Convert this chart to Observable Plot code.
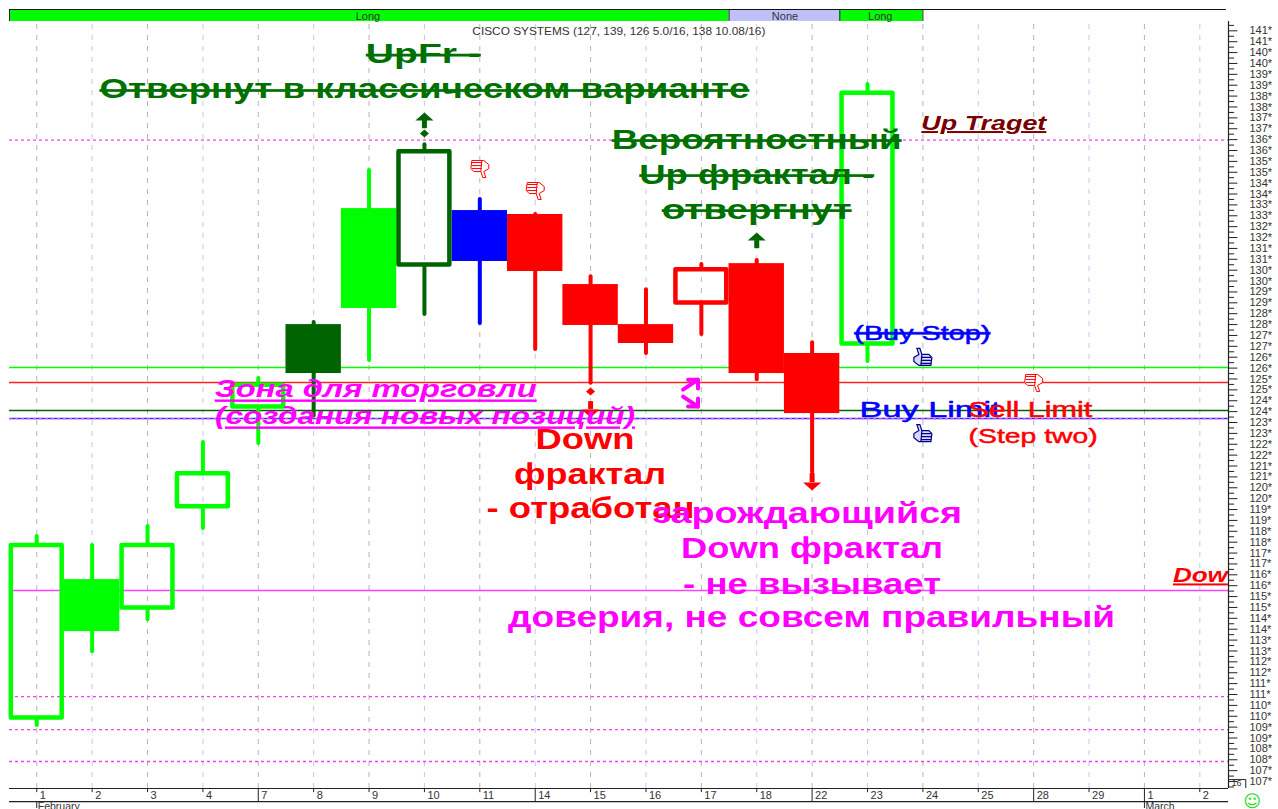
<!DOCTYPE html>
<html><head><meta charset="utf-8">
<style>html,body{margin:0;padding:0;background:#fff;overflow:hidden}svg{display:block}</style>
<script src="https://cdn.jsdelivr.net/npm/d3@7"></script>
<script src="https://cdn.jsdelivr.net/npm/@observablehq/plot@0.6"></script>
</head><body><div id="chart"></div>
<script>
// ---- data -----
const dayLabels = ["1","2","3","4","7","8","9","10","11","14","15","16","17","18","22","23","24","25","28","29","1","2"];
const weekStart = ["1","7","14","22","28"];
const bodyTop    = [117.95,116.28,117.95,121.25,125.32,128.0,133.33,136.05,133.24,133.06,129.84,128.0,130.62,130.8,126.67,138.74];
const bodyBottom = [109.82,113.89,114.87,119.52,124.11,125.75,128.74,130.64,130.9,130.44,127.96,127.13,128.89,125.75,123.91,127.0];
const highs      = [118.26,117.85,118.72,122.58,125.52,128.09,135.08,136.27,133.75,133.06,130.2,129.6,130.76,130.94,127.17,139.03];
const lows       = [109.57,112.97,114.44,118.63,122.53,123.8,126.35,128.46,128.05,126.85,125.3,126.67,127.54,125.47,121.2,126.3];
const hollow     = [1,0,1,1,1,0,0,1,0,0,0,0,1,0,0,1];
const state      = ["long","long","long","long","long","dark","long","dark","flat","short","short","short","short","short","short","long"];
const stateColor = {long:"#00ff00",dark:"#006400",flat:"#0000ff",short:"#ff0000"};
const candles = bodyTop.map((t,i)=>({i,top:t,bottom:bodyBottom[i],high:highs[i],low:lows[i],hollow:!!hollow[i],color:stateColor[state[i]]}));

const solidLevels = [[126.03,"#00ff00"],[125.34,"#ff2020"],[124.05,"#006400"],[123.68,"#3030ff"],[115.78,"#ff40ff"]];
const dashedLevels = [136.48,123.68,110.9,109.39,107.92];
const signalStrip = [[-0.492,12.5,"#00ff00","Long",5.98],[12.5,14.5,"#c0c0f8","None",13.51],[14.5,16,"#00ff00","Long",15.23]];

const greenNotes = [["UpFr -",6.98,140.0,115,28],["Отвернут в классическом варианте",7,138.39,650,27],["Вероятностный",13,136.09,290,27],["Up фрактал -",13,134.48,235,27],["отвергнут",13,132.87,190,27]];
const redNotes = [["Down",9.9,122.3,99,30],["фрактал",9.99,120.69,152,30],["- отработан",10,119.09,208,30]];
const pinkNotes = [["зарождающийся",13.91,118.86,310,29],["Down фрактал",14,117.25,262,29],["- не вызывает",14,115.64,258,29],["доверия, не совсем правильный",13.99,114.08,607,29]];
const zoneNotes = [["Зона для торговли",6.12,124.65,322,24],["(создания новых позиций)",7.01,123.41,420,24]];
const thumbsDown = [[8,135.17],[9,134.16],[18,125.34]];
const thumbsUp = [[16,126.49],[16,122.99]];

// ---- scales -----
const xMin=-0.492, xMax=21.518, yMin=106.68, yMax=142.48;
const yBottomA=106.08, yBottomB=105.76;
const minorTicks = d3.range(106.75,141.76,0.25);
const labelTicks = d3.range(107,141.51,0.5);
const widths = new Map();
[...greenNotes,...redNotes,...pinkNotes,...zoneNotes].forEach(d=>widths.set(d[0],d[3]));
[["Up Traget",125],["(Buy Stop)",136],["Buy Limit",141],["Sell Limit",124],["(Step two)",129],["Dow",55],["CISCO SYSTEMS (127, 139, 126 5.0/16, 138 10.08/16)",293]].forEach(d=>widths.set(d[0],d[1]));
const strike = new Set(["UpFr -","Отвернут в классическом варианте","Вероятностный","Up фрактал -","отвергнут","(Buy Stop)"]);
const under = new Set(["Up Traget","Dow","Зона для торговли","(создания новых позиций)"]);
const sans = "Liberation Sans";

// custom symbols
const arrowHead = {draw(c){c.moveTo(0,-8);c.lineTo(9,0);c.lineTo(-9,0);c.closePath();}};
const flatDiamond = {draw(c){c.moveTo(0,-4);c.lineTo(4.5,0);c.lineTo(0,4);c.lineTo(-4.5,0);c.closePath();}};
const thumb = {draw(c){
  c.moveTo(-6,-9);c.lineTo(-3,-9);c.lineTo(-1,-3);c.lineTo(6,-3);c.lineTo(9,0);c.lineTo(8,8);c.lineTo(-4,8);c.lineTo(-9,4);c.lineTo(-9,0);c.lineTo(-4,-3);c.closePath();
  c.moveTo(-1,-3);c.lineTo(-2,8);
  c.moveTo(-2,0);c.lineTo(8,0);c.moveTo(-2,3);c.lineTo(8,3);c.moveTo(-2,6);c.lineTo(8,6);
}};

function notes(list,opt){
  return Plot.text(list,{x:d=>d[1],y:d=>d[2],text:d=>d[0],fontSize:d=>d[4],textAnchor:"middle",lineAnchor:"bottom",fontFamily:sans,fontWeight:"bold",...opt});
}
function note(text,x,y,size,fill,extra={}){
  return Plot.text([text],{x:()=>x,y:()=>y,text:d=>d,fontSize:size,fill,textAnchor:"middle",lineAnchor:"bottom",fontFamily:sans,fontWeight:"bold",...extra});
}
const shaft=(x,a,b,c)=>Plot.ruleX([x],{y1:a,y2:b,stroke:c,strokeWidth:5});
const head=(x,y,c,rot)=>Plot.dot([x],{x:d=>d,y:()=>y,symbol:arrowHead,r:4,fill:c,stroke:"none",rotate:rot});
const gem=(x,y,c)=>Plot.dot([x],{x:d=>d,y:()=>y,symbol:flatDiamond,r:4,fill:c,stroke:"none"});
const bent=(pts)=>Plot.line(pts,{x:d=>d[0],y:d=>d[1],stroke:"#ff00ff",strokeWidth:4,strokeLinejoin:"miter"});

const plot = Plot.plot({
  width:1278,height:809,marginLeft:9,marginRight:50,marginTop:9,marginBottom:21,
  style:{background:"#fff",overflow:"visible"},
  x:{type:"linear",domain:[xMin,xMax],axis:null},
  y:{type:"linear",domain:[yMin,yMax],axis:null},
  marks:[
    // grid
    Plot.ruleX(dayLabels.map((_,i)=>i),{y1:yMin,y2:141.93,stroke:i=>i%2?"#c6c6f0":"#b8b4b4",strokeWidth:1,strokeDasharray:"5,6"}),
    // strip
    Plot.rect(signalStrip,{x1:d=>d[0],x2:d=>d[1],y1:141.93,y2:yMax,fill:d=>d[2]}),
    Plot.ruleX([xMin,12.5,14.5,16],{y1:141.93,y2:yMax,stroke:"#222",strokeWidth:1}),
    Plot.ruleY([yMax],{x1:xMin,x2:21.48,stroke:"#111",strokeWidth:1}),
    Plot.text(signalStrip,{x:d=>d[4],y:142.02,text:d=>d[3],fontSize:11,fill:"#333",fontFamily:sans,lineAnchor:"bottom"}),
    Plot.text(["CISCO SYSTEMS (127, 139, 126 5.0/16, 138 10.08/16)"],{x:()=>10.51,y:()=>141.33,text:d=>d,fontSize:11,fill:"#333",fontFamily:sans,lineAnchor:"bottom"}),
    // levels
    Plot.ruleY(solidLevels,{y:d=>d[0],stroke:d=>d[1],strokeWidth:1.5}),
    Plot.ruleY(dashedLevels,{stroke:"#f040f0",strokeWidth:1.3,strokeDasharray:"3,3"}),
    // candles: wicks
    Plot.ruleX(candles,{x:"i",y1:"top",y2:"high",stroke:"color",strokeWidth:4,strokeLinecap:"round"}),
    Plot.ruleX(candles,{x:"i",y1:"bottom",y2:"low",stroke:"color",strokeWidth:4,strokeLinecap:"round"}),
    // candles: bodies
    Plot.rect(candles.filter(d=>!d.hollow),{x1:d=>d.i-0.5,x2:d=>d.i+0.5,y1:"bottom",y2:"top",fill:"color"}),
    Plot.rect(candles.filter(d=>d.hollow),{x1:d=>d.i-0.5,x2:d=>d.i+0.5,y1:"bottom",y2:"top",fill:"none",stroke:"color",strokeWidth:4.5,inset:2.25,strokeLinejoin:"round"}),
    // fractal markers
    shaft(7,137.38,137.0,"#006400"), head(7,137.38,"#006400",0), gem(7,136.78,"#006400"),
    shaft(13,131.86,131.49,"#006400"), head(13,131.86,"#006400",0),
    shaft(10,124.46,124.1,"#ff0000"), head(10,124.1,"#ff0000",180), gem(10,124.92,"#ff0000"),
    shaft(14,121.15,120.74,"#ff0000"), head(14,120.74,"#ff0000",180),
    // bent magenta arrows
    bent([[11.76,125.47],[11.94,125.47],[11.94,125.06]]), bent([[11.67,125.01],[11.94,125.47]]),
    bent([[11.94,124.6],[11.94,124.23],[11.76,124.23]]), bent([[11.67,124.69],[11.94,124.23]]),
    // thumbs
    Plot.dot(thumbsDown,{x:d=>d[0],y:d=>d[1],symbol:thumb,r:4,rotate:180,fill:"#ffffff",stroke:"#ff0000",strokeWidth:1}),
    Plot.dot(thumbsUp,{x:d=>d[0],y:d=>d[1],symbol:thumb,r:4,fill:"#d8d8ff",stroke:"#000080",strokeWidth:1.2}),
    // annotations
    notes(greenNotes,{fill:"#007000"}),
    notes(redNotes,{fill:"#ff0000"}),
    notes(pinkNotes,{fill:"#ff00ff"}),
    notes(zoneNotes,{fill:"#ff00ff",fontStyle:"italic"}),
    note("Up Traget",17.1,136.94,20,"#7a0000",{fontStyle:"italic"}),
    note("Dow",21.01,116.15,20,"#ff0000",{fontStyle:"italic"}),
    note("(Buy Stop)",15.99,127.31,21,"#0000ff",{fontWeight:"normal",stroke:"#0000ff",strokeWidth:0.5}),
    note("Buy Limit",16.13,123.73,22,"#0000ff",{fontWeight:"normal",stroke:"#0000ff",strokeWidth:0.5}),
    note("Sell Limit",17.94,123.73,22,"#ff0000",{fontWeight:"normal",stroke:"#ff0000",strokeWidth:0.5}),
    note("(Step two)",17.99,122.58,21,"#ff0000",{fontWeight:"normal",stroke:"#ff0000",strokeWidth:0.5}),
    // right axis
    Plot.ruleX([xMax],{y1:yMin,y2:141.93,stroke:"#222",strokeWidth:1.2}),
    Plot.ruleY(minorTicks,{x1:xMax,x2:d=>xMax+(Number.isInteger(d*2)?0.17:0.11),stroke:"#222",strokeWidth:1}),
    Plot.text(labelTicks,{x:()=>xMax,y:d=>d,dx:21,text:d=>Math.floor(d)+"*",textAnchor:"start",fontSize:11,fill:"#333",fontFamily:sans}),
    // bottom axis
    Plot.ruleY([yMin,yBottomA],{x1:xMin,x2:xMax,stroke:"#222",strokeWidth:1.2}),
    Plot.ruleX(dayLabels.map((d,i)=>[d,i]),{x:d=>d[1],y1:yMin,y2:d=>weekStart.includes(d[0])&&d[1]!==0||d[1]===20?yBottomA:106.49,stroke:"#222"}),
    Plot.ruleX([0,20],{y1:yBottomA,y2:yBottomB,stroke:"#222"}),
    Plot.text(dayLabels.map((d,i)=>[d,i]),{x:d=>d[1],y:106.2,dx:3,text:d=>d[0],textAnchor:"start",lineAnchor:"bottom",fontSize:11,fill:"#333",fontFamily:sans}),
    Plot.text([["February",0],["March",20]],{x:d=>d[1],y:105.71,dx:1,text:d=>d[0],textAnchor:"start",lineAnchor:"bottom",fontSize:10.5,fill:"#333",fontFamily:sans}),
    // corner box and smiley
    Plot.ruleY([107.09],{x1:xMax,x2:21.83,stroke:"#222"}),
    Plot.ruleX([21.83],{y1:106.68,y2:107.09,stroke:"#222"}),
    Plot.text(["16"],{x:()=>xMax,y:()=>106.78,dx:3,text:d=>d,textAnchor:"start",lineAnchor:"bottom",fontSize:9,fill:"#333",fontFamily:sans}),
    Plot.text(["☺"],{x:()=>21.95,y:()=>106.1,text:d=>d,fontSize:17,fill:"#22dd22",fontFamily:"DejaVu Sans"})
  ]
});
d3.select(plot).selectAll("text").each(function(){
  const t=this.textContent, s=d3.select(this);
  if(widths.has(t)) s.attr("textLength",widths.get(t)).attr("lengthAdjust","spacingAndGlyphs");
  if(strike.has(t)) s.style("text-decoration","line-through").style("text-decoration-thickness","1.5px");
  if(under.has(t)) s.style("text-decoration","underline").style("text-decoration-thickness","2.5px");
});
document.getElementById("chart").append(plot);
</script></body></html>
